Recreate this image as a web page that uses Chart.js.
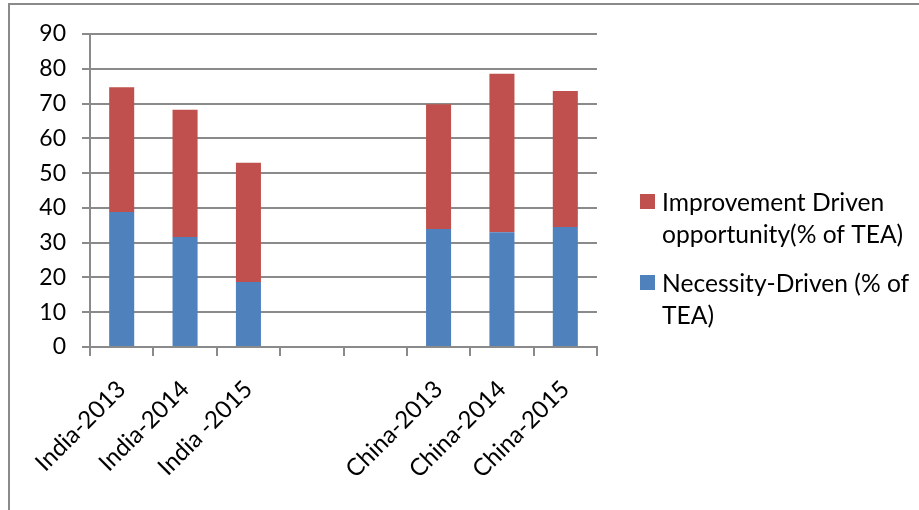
<!DOCTYPE html>
<html>
<head>
<meta charset="utf-8">
<title>Entrepreneurial activity: India and China</title>
<script src="https://cdn.jsdelivr.net/npm/chart.js@4/dist/chart.umd.min.js"></script>
<style>
  html, body { margin: 0; padding: 0; background: #ffffff; }
  #wrap { width: 919px; height: 510px; }
</style>
</head>
<body>
<div id="wrap"><canvas id="chart" width="919" height="510"></canvas></div>
<script>
// Categories (two empty slots separate the two countries)
const categories = ['India-2013', 'India-2014', 'India -2015', '', '', 'China-2013', 'China-2014', 'China-2015'];

// Share of TEA, stacked: necessity at the bottom, improvement on top
const necessityDriven = [38.8, 31.6, 18.7, null, null, 33.9, 33.0, 34.5];
const improvementDriven = [35.9, 36.6, 34.3, null, null, 35.9, 45.6, 39.1];

const seriesNames = {
  improvement: ['Improvement Driven', 'opportunity(% of TEA)'],
  necessity: ['Necessity-Driven (% of', 'TEA)']
};

const yTicks = { min: 0, max: 90, step: 10 };

const RED = '#C0504D';
const BLUE = '#4F81BD';
const GRID = '#8a8a8a';
const FONT = 'Lato, "Liberation Sans", sans-serif';

// Outer frame around the whole chart
const framePlugin = {
  id: 'frame',
  beforeDraw(chart) {
    const ctx = chart.ctx;
    ctx.save();
    ctx.fillStyle = '#ffffff';
    ctx.fillRect(0, 0, chart.width, chart.height);
    ctx.strokeStyle = '#8a8a8a';
    ctx.lineWidth = 2;
    ctx.strokeRect(9, 4, chart.width + 20, chart.height + 20);
    ctx.restore();
  }
};

// Legend on the right with wrapped two-line entries
const sideLegend = {
  id: 'sideLegend',
  afterDraw(chart) {
    const ctx = chart.ctx;
    const x0 = chart.chartArea.right + 43;
    const entries = [
      { color: RED, lines: seriesNames.improvement, top: 194 },
      { color: BLUE, lines: seriesNames.necessity, top: 275 }
    ];
    ctx.save();
    ctx.font = '24.6px ' + FONT;
    ctx.fillStyle = '#000000';
    ctx.textBaseline = 'alphabetic';
    entries.forEach(e => {
      ctx.fillStyle = e.color;
      ctx.fillRect(x0, e.top, 15, 15);
      ctx.fillStyle = '#000000';
      e.lines.forEach((t, i) => {
        ctx.fillText(t, x0 + 22, e.top + 17 + i * 32);
      });
    });
    ctx.restore();
  }
};

new Chart(document.getElementById('chart'), {
  type: 'bar',
  data: {
    labels: categories,
    datasets: [
      {
        label: 'Necessity-Driven (% of TEA)',
        data: necessityDriven,
        backgroundColor: BLUE,
        borderWidth: 0,
        barPercentage: 0.395,
        categoryPercentage: 1.0
      },
      {
        label: 'Improvement Driven opportunity(% of TEA)',
        data: improvementDriven,
        backgroundColor: RED,
        borderWidth: 0,
        barPercentage: 0.395,
        categoryPercentage: 1.0
      }
    ]
  },
  options: {
    responsive: false,
    animation: false,
    devicePixelRatio: 1,
    layout: { padding: { top: 34, right: 322, bottom: 0, left: 0 } },
    plugins: {
      legend: { display: false },
      tooltip: { enabled: false },
      title: { display: false }
    },
    scales: {
      x: {
        stacked: true,
        offset: true,
        grid: {
          display: true,
          drawOnChartArea: false,
          drawTicks: true,
          tickLength: 9,
          offset: true,
          color: GRID,
          lineWidth: 2
        },
        border: { display: true, color: GRID, width: 2 },
        ticks: {
          color: '#000000',
          font: { family: FONT, size: 24 },
          minRotation: 45,
          maxRotation: 45,
          autoSkip: false,
          padding: 19
        },
        afterFit(scale) { scale.height = 163; }
      },
      y: {
        stacked: true,
        min: yTicks.min,
        max: yTicks.max,
        grid: {
          color: GRID,
          lineWidth: 2,
          drawTicks: true,
          tickLength: 8
        },
        border: { display: true, color: GRID, width: 2 },
        ticks: {
          stepSize: yTicks.step,
          color: '#000000',
          font: { family: FONT, size: 23 },
          padding: 16
        },
        afterFit(scale) { scale.width = 90; }
      }
    }
  },
  plugins: [framePlugin, sideLegend]
});
</script>
</body>
</html>
